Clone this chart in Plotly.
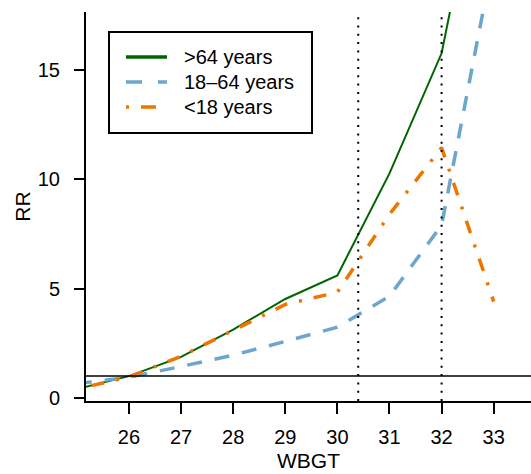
import plotly.graph_objects as go

wbgt = [25, 26, 27, 28, 29, 30, 31, 32, 33]
rr_over64 = [0.40, 0.99, 1.87, 3.12, 4.52, 5.60, 10.27, 15.77, 27.6]
rr_18to64 = [0.64, 0.94, 1.43, 1.95, 2.58, 3.23, 4.65, 7.90, 20.2]
rr_under18 = [0.40, 0.95, 1.90, 3.10, 4.27, 4.83, 8.40, 11.45, 4.40]
thresholds = [30.4, 32.0]
ref_rr = 1
x_ticks = [26, 27, 28, 29, 30, 31, 32, 33]
y_ticks = [0, 5, 10, 15]
series_names = [">64 years", "18\u201364 years", "<18 years"]
series_colors = ["#006400", "#6CA6CD", "#EE7600"]
series_widths = [2, 3.5, 3.5]
series_dash = ["solid", "15px,13px", "3px,12px,13px,12px"]

FONT = "Liberation Sans, Arial, Helvetica, sans-serif"
W, H = 531, 474
L, R, T, B = 86, 0, 12, 73


def px_x(p):
    return (p - L) / (W - L - R)


def px_y(p):
    return (H - B - p) / (H - T - B)


fig = go.Figure()
for ys, name, c, w, d in zip([rr_over64, rr_18to64, rr_under18], series_names,
                             series_colors, series_widths, series_dash):
    fig.add_trace(go.Scatter(x=wbgt, y=ys, mode="lines", name=name,
                             line=dict(color=c, width=w, dash=d), showlegend=False))

for t in thresholds:
    fig.add_vline(x=t, line=dict(color="black", width=2, dash="2px,6.3px"))
fig.add_hline(y=ref_rr, line=dict(color="black", width=1.5))

# legend drawn by hand (box, samples, labels)
fig.add_shape(type="rect", xref="paper", yref="paper",
              x0=px_x(109), x1=px_x(312), y0=px_y(133), y1=px_y(32),
              line=dict(color="black", width=2), fillcolor="white", layer="above")
legend_dash = ["solid", "16px,16px", "3px,12px,15px,12px"]
legend_width = [3.5, 3.5, 3.5]
for i, (name, c, w, d) in enumerate(zip(series_names, series_colors, legend_width, legend_dash)):
    yy = 57 + 25 * i
    fig.add_shape(type="line", xref="paper", yref="paper",
                  x0=px_x(126), x1=px_x(167), y0=px_y(yy), y1=px_y(yy),
                  line=dict(color=c, width=w, dash=d), layer="above")
    fig.add_annotation(xref="paper", yref="paper", x=px_x(182), y=px_y(yy),
                       text=name, showarrow=False, xanchor="left", yanchor="middle",
                       font=dict(size=20))

fig.update_layout(
    width=W, height=H,
    margin=dict(l=L, r=R, t=T, b=B),
    plot_bgcolor="white", paper_bgcolor="white",
    font=dict(family=FONT, size=20, color="black"),
    showlegend=False,
)
fig.update_xaxes(range=[25.175, 33.716], tickvals=x_ticks, ticks="outside",
                 ticklen=11, tickwidth=1.5, tickcolor="black",
                 showline=True, linecolor="black", linewidth=2,
                 showgrid=False, zeroline=False, ticklabelstandoff=6, automargin=False,
                 title=dict(text="WBGT", font=dict(size=21), standoff=6))
fig.update_yaxes(range=[-0.15, 17.66], tickvals=y_ticks, ticks="outside",
                 ticklen=10, tickwidth=1.5, tickcolor="black",
                 showline=True, linecolor="black", linewidth=2,
                 showgrid=False, zeroline=False, ticklabelstandoff=10, automargin=False,
                 title=dict(text="RR", font=dict(size=21), standoff=1))

fig.write_html("out.html", config={"displayModeBar": False},
               post_script="document.body.style.margin='0';document.body.style.overflow='hidden';")
